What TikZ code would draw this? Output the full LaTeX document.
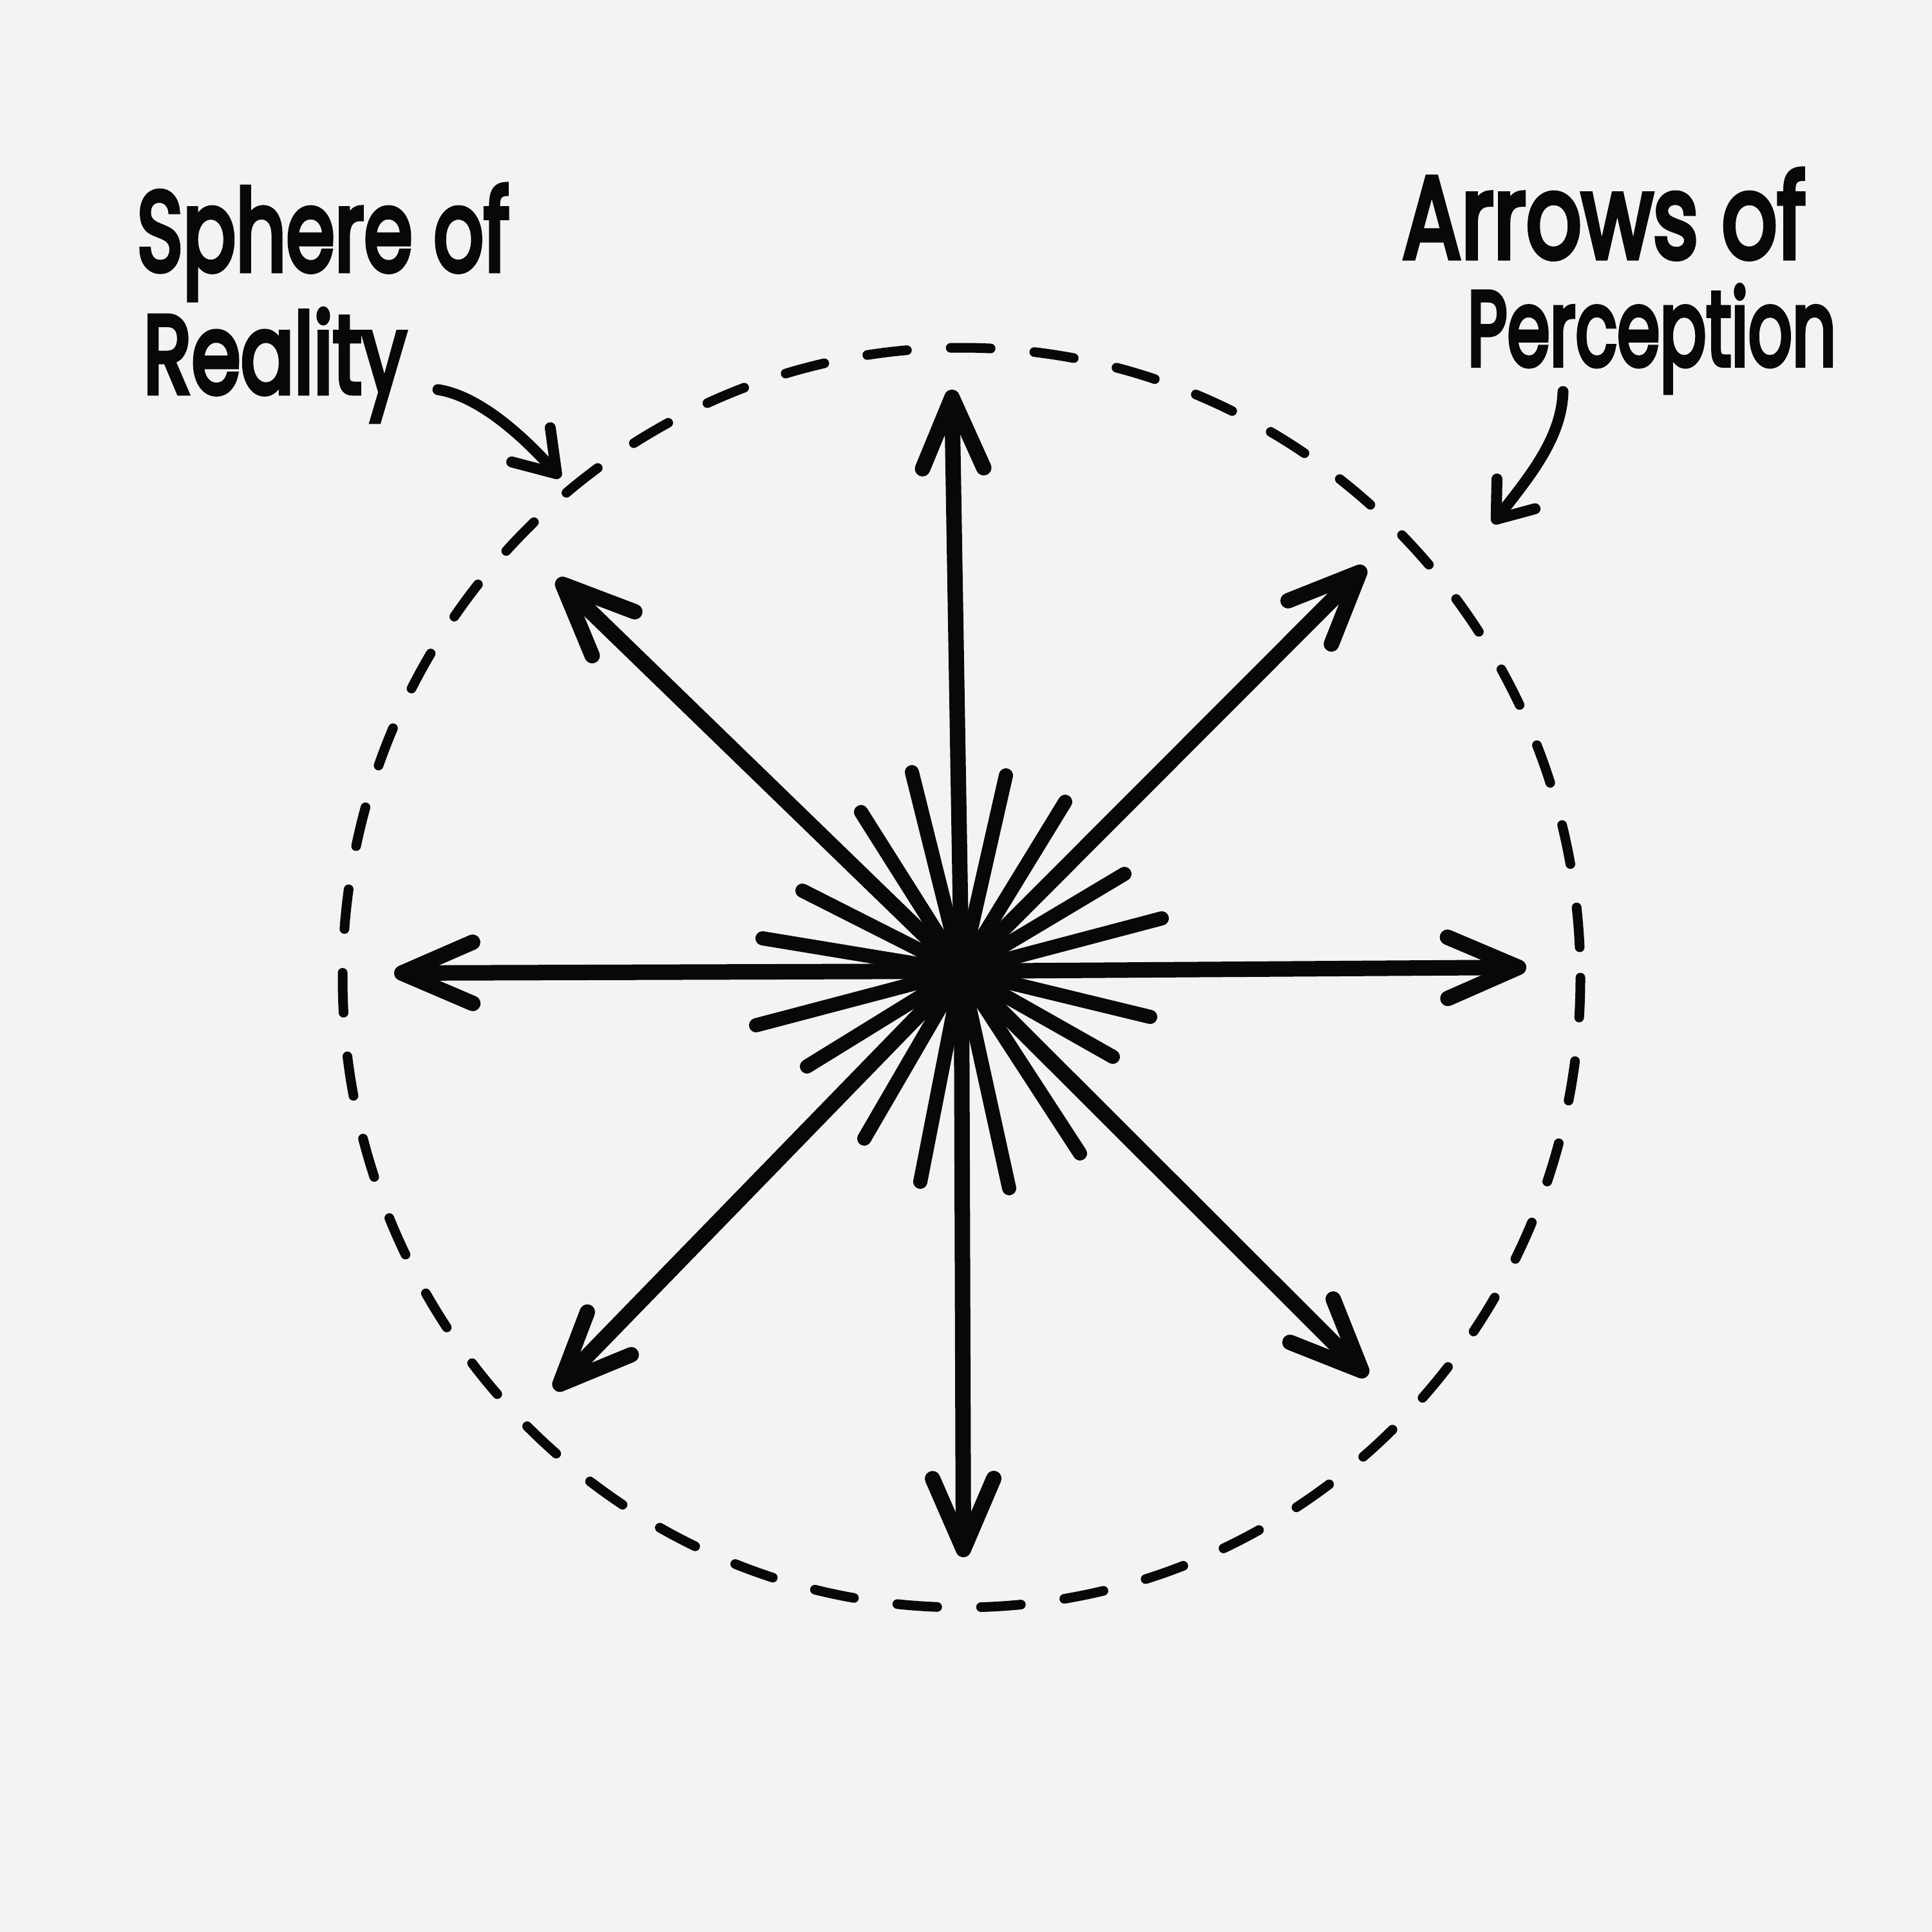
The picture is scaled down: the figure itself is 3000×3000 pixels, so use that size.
\documentclass[tikz,border=0pt]{standalone}
\usepackage{fontspec}
\setmainfont{Fira Sans}
\newfontfamily\handfont{Poppins}[FakeBold=5]
\usepackage{graphicx}
\usetikzlibrary{arrows.meta,calc}
\definecolor{paper}{RGB}{243,243,242}
\definecolor{ink}{RGB}{8,8,8}
\tikzset{
  mainarrow/.style={draw=ink, line width=0.24cm, line cap=round, line join=round,
    -{Straight Barb[length=1.1cm, width=0.95cm, round]}},
  shortray/.style={draw=ink, line width=0.22cm, line cap=round},
  dashring/.style={draw=ink, line width=0.15cm, line cap=round, dash pattern=on 0.62cm off 0.68cm},
  pencil/.style={draw=black!5, line width=0.5pt},
  callout/.style={draw=ink, line width=0.17cm, line cap=round, line join=round},
  labeltext/.style={anchor=base west, inner sep=0pt, text=ink, font=\handfont},
}
\begin{document}
\begin{tikzpicture}[x=0.01cm, y=-0.01cm]
\fill[paper] (0,0) rectangle (3000,3000);
\useasboundingbox (0,0) rectangle (3000,3000);

% faint pencil guide and dashed sphere
\draw[pencil] (1490,1521) ellipse [x radius=972, y radius=985];
\draw[dashring] (1493,1518) ellipse [x radius=961, y radius=978];

\coordinate (c) at (1493,1508);

% short rays
\foreach \dx/\dy [count=\i] in {-77/-309, 69/-304, -156/-247, 161/-263, -247/-125, 253/-151,
  -309/-51, 311/-82, -319/84, 293/71, -240/148, 235/133, -151/260, 184/283, -64/327, 74/337}{
  \coordinate (r\i) at ($(c)+(\dx,\dy)$);
}
\foreach \i in {1,...,16}{ \draw[shortray] (c) -- (r\i); }
\fill[ink] (c) circle [radius=32];

% arrows of perception
\coordinate (tN) at (1478,605);
\coordinate (tS) at (1496,2418);
\coordinate (tW) at (612,1511);
\coordinate (tE) at (2370,1502);
\coordinate (tNW) at (865,899);
\coordinate (tNE) at (2120,880);
\coordinate (tSW) at (861,2158);
\coordinate (tSE) at (2123,2137);
\foreach \t in {tN,tS,tW,tE,tNW,tNE,tSW,tSE}{ \draw[mainarrow] (c) -- (\t); }

% labels
\node[labeltext] (sph) at (212,420) {\resizebox{5.78cm}{1.33cm}{Sphere of}};
\node[labeltext] (rea) at (222,610) {\resizebox{4.08cm}{1.30cm}{Reality}};
\node[labeltext] (arr) at (2177,400) {\resizebox{6.26cm}{1.37cm}{Arrows of}};
\node[labeltext] (per) at (2278,567) {\resizebox{5.72cm}{1.24cm}{Perception}};

% callout arrows
\coordinate (a1s) at (680,605);
\coordinate (a1e) at (870,742);
\draw[callout, -{Straight Barb[length=0.6cm, width=0.8cm, round]}]
  (a1s) .. controls (745,615) and (815,680) .. (a1e);
\coordinate (a2s) at (2427,608);
\coordinate (a2e) at (2318,813);
\draw[callout, -{Straight Barb[length=0.5cm, width=0.75cm, round]}]
  (a2s) .. controls (2425,680) and (2375,740) .. (a2e);
\end{tikzpicture}
\end{document}
